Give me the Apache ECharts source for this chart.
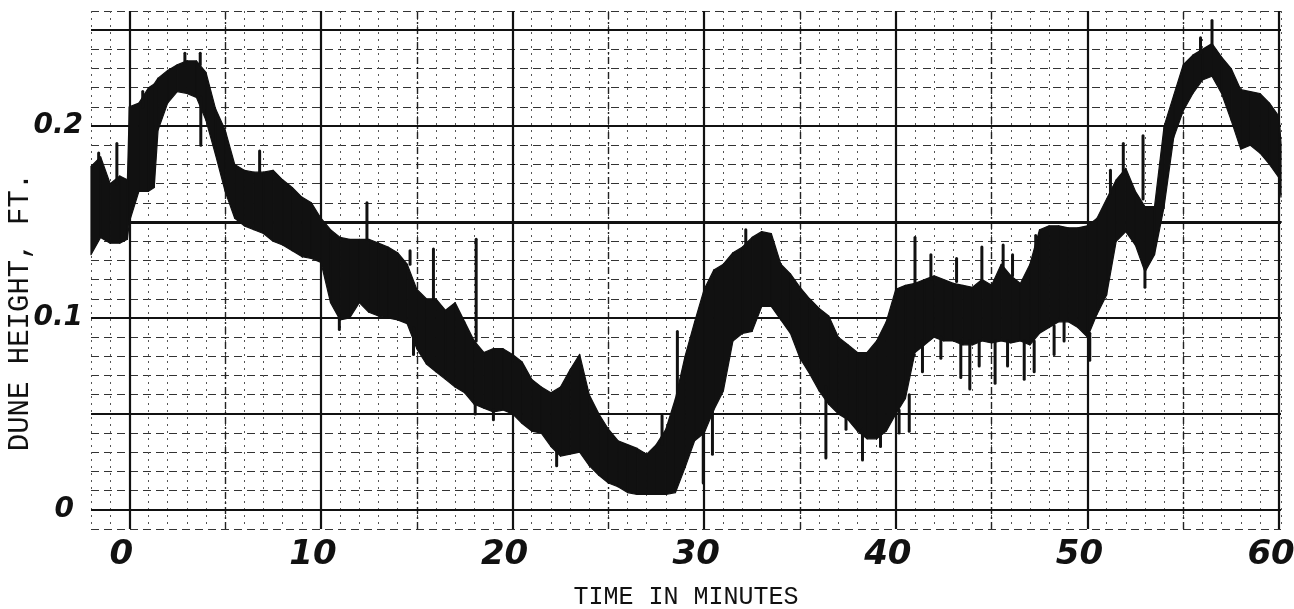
<!DOCTYPE html>
<html>
<head>
<meta charset="utf-8">
<script src="https://cdn.jsdelivr.net/npm/echarts@6/dist/echarts.min.js"></script>
<style>
html,body{margin:0;padding:0;background:#fff;}
#chart{width:1294px;height:609px;}
</style>
</head>
<body>
<div id="chart"></div>
<script>
// Time in minutes (base envelope samples)
const times = [-2,-1.5,-1,-0.5,-0.1,0,0.5,1,1.3,1.5,2,2.5,3,3.5,4,4.5,5,5.5,6,6.5,7,7.5,8,8.5,9,9.5,10,10.5,11,11.5,12,12.5,13,13.5,14,14.5,15,15.5,16,16.5,17,17.5,18,18.5,19,19.5,20,20.5,21,21.5,22,22.5,23,23.5,24,24.5,25,25.5,26,26.5,27,27.5,28,28.5,29,29.5,30,30.5,31,31.5,32,32.5,33,33.5,34,34.5,35,35.5,36,36.5,37,37.5,38,38.5,39,39.5,40,40.5,41,41.5,42,42.5,43,43.5,44,44.5,45,45.5,46,46.5,47,47.5,48,48.5,49,49.5,50,50.5,51,51.5,52,52.5,53,53.5,54,54.5,55,55.5,56,56.5,57,57.5,58,58.5,59,59.5,60,60.1];
// Upper edge of the recorded trace (ft)
const hiVals = [0.179,0.184,0.170,0.174,0.172,0.210,0.212,0.220,0.222,0.225,0.229,0.232,0.234,0.234,0.228,0.209,0.198,0.180,0.177,0.176,0.176,0.177,0.172,0.168,0.163,0.160,0.152,0.146,0.142,0.141,0.141,0.141,0.139,0.137,0.134,0.128,0.115,0.110,0.110,0.104,0.108,0.098,0.088,0.082,0.084,0.084,0.081,0.077,0.068,0.064,0.061,0.064,0.073,0.081,0.060,0.050,0.042,0.036,0.034,0.032,0.029,0.034,0.042,0.058,0.080,0.098,0.115,0.125,0.128,0.134,0.137,0.142,0.145,0.144,0.128,0.123,0.116,0.110,0.105,0.101,0.090,0.086,0.082,0.082,0.088,0.098,0.115,0.117,0.118,0.120,0.122,0.120,0.118,0.117,0.116,0.120,0.117,0.128,0.122,0.118,0.128,0.146,0.148,0.148,0.147,0.147,0.148,0.152,0.162,0.172,0.178,0.166,0.158,0.158,0.200,0.216,0.232,0.237,0.240,0.243,0.236,0.230,0.219,0.218,0.217,0.212,0.205,0.191];
// Lower edge of the recorded trace (ft)
const loVals = [0.133,0.142,0.139,0.139,0.141,0.150,0.166,0.166,0.168,0.198,0.212,0.218,0.217,0.215,0.203,0.185,0.166,0.152,0.148,0.146,0.144,0.140,0.138,0.135,0.132,0.131,0.129,0.108,0.099,0.100,0.108,0.103,0.101,0.100,0.099,0.097,0.084,0.076,0.072,0.068,0.064,0.061,0.055,0.053,0.051,0.052,0.050,0.045,0.041,0.040,0.033,0.028,0.029,0.030,0.023,0.018,0.014,0.012,0.009,0.008,0.008,0.008,0.008,0.009,0.022,0.036,0.040,0.052,0.062,0.088,0.092,0.093,0.106,0.106,0.099,0.092,0.079,0.071,0.062,0.055,0.050,0.047,0.041,0.037,0.037,0.041,0.050,0.058,0.082,0.086,0.090,0.088,0.088,0.086,0.086,0.088,0.087,0.088,0.087,0.088,0.086,0.092,0.095,0.098,0.098,0.095,0.090,0.102,0.112,0.140,0.145,0.138,0.124,0.133,0.158,0.194,0.208,0.217,0.224,0.226,0.217,0.203,0.188,0.190,0.186,0.180,0.173,0.163];

// Narrow spikes of the pen: time, start value, tip value (ft)
const spikeTimes = [-1.6,-0.65,0.7,2.9,3.7,3.73,6.8,10.96,12.4,14.65,14.83,15.87,18.1,18.05,19.0,22.3,27.8,28.6,29.95,30.43,32.17,36.35,37.4,38.26,39.2,40.17,40.7,41.0,41.39,41.83,42.35,43.17,43.39,43.86,44.35,44.49,45.18,45.6,45.83,46.09,46.7,47.22,47.3,48.26,48.78,50.12,51.2,51.87,52.9,53.0,55.9,56.5];
const spikeFrom = [0.180,0.170,0.210,0.232,0.232,0.215,0.176,0.102,0.141,0.128,0.095,0.110,0.088,0.056,0.052,0.032,0.034,0.055,0.045,0.055,0.137,0.064,0.050,0.042,0.039,0.052,0.060,0.118,0.088,0.120,0.090,0.119,0.088,0.088,0.088,0.119,0.088,0.124,0.088,0.122,0.088,0.088,0.135,0.096,0.098,0.092,0.165,0.175,0.162,0.126,0.238,0.242];
const spikeTip = [0.186,0.191,0.218,0.238,0.238,0.190,0.187,0.094,0.160,0.135,0.081,0.136,0.141,0.050,0.047,0.023,0.049,0.093,0.014,0.029,0.146,0.027,0.042,0.026,0.033,0.040,0.041,0.142,0.072,0.133,0.079,0.131,0.069,0.063,0.075,0.137,0.066,0.138,0.075,0.133,0.068,0.072,0.143,0.081,0.088,0.078,0.177,0.191,0.195,0.116,0.246,0.255];

const xTickLabels = [0,10,20,30,40,50,60];
const yTickLabels = [0,0.1,0.2];
const yTickText = ['0','0.1','0.2'];
const majorX = [0,10,20,30,40,50,60];
const halfX = [5,15,25,35,45,55];
const majorY = [0,0.05,0.1,0.2,0.25];
const heavyY = [0.15];

const envData = times.map((t,i)=>[t, loVals[i], hiVals[i]]);
const spikeData = spikeTimes.map((t,i)=>[t, spikeFrom[i], spikeTip[i]]);

const chart = echarts.init(document.getElementById('chart'), null, {renderer:'canvas'});
const ink = '#111';
const markLines = [].concat(
  halfX.map(v=>({xAxis:v, lineStyle:{color:'#222', width:1.4, type:[7,3,2,3]}})),
  majorX.map(v=>({xAxis:v, lineStyle:{color:ink, width:2.2, type:'solid'}})),
  majorY.map(v=>({yAxis:v, lineStyle:{color:ink, width:2.2, type:'solid'}})),
  heavyY.map(v=>({yAxis:v, lineStyle:{color:ink, width:3.2, type:'solid'}}))
);

function renderEnv(params, api){
  const i = params.dataIndex;
  if (i >= envData.length - 1) return null;
  const a = envData[i], b = envData[i+1];
  const pts = [
    api.coord([a[0], a[1]]),
    api.coord([a[0], a[2]]),
    api.coord([b[0], b[2]]),
    api.coord([b[0], b[1]])
  ];
  return {
    type:'polygon',
    shape:{points:pts},
    style:{fill:ink, stroke:ink, lineWidth:1.2, lineJoin:'round'}
  };
}

function renderSpike(params, api){
  const p0 = api.coord([api.value(0), api.value(1)]);
  const p1 = api.coord([api.value(0), api.value(2)]);
  return {
    type:'line',
    shape:{x1:p0[0], y1:p0[1], x2:p1[0], y2:p1[1]},
    style:{stroke:ink, lineWidth:3, lineCap:'round'}
  };
}

chart.setOption({
  animation:false,
  backgroundColor:'#fff',
  grid:{left:91, right:13, top:11, bottom:80, containLabel:false, outerBoundsMode:'none'},
  xAxis:{
    type:'value', min:-2, max:60.1, interval:1,
    axisLine:{show:false}, axisTick:{show:false},
    splitLine:{show:true, lineStyle:{color:'#555', width:1, type:[2,5]}},
    axisLabel:{
      show:true, margin:9,
      formatter:(v)=>{ const k = xTickLabels.find(x=>Math.abs(x-v)<1e-6); return k===undefined?'':'{a|'+k+'}{s|}'; },
      rich:{
        a:{fontFamily:'DejaVu Sans', fontStyle:'italic', fontWeight:'bold', fontSize:34, color:ink},
        s:{width:16}
      }
    },
    name:'TIME IN MINUTES', nameLocation:'middle', nameGap:56, nameMoveOverlap:false,
    nameTextStyle:{fontFamily:'Liberation Mono', fontSize:25, color:ink}
  },
  yAxis:{
    type:'value', min:-0.01, max:0.26, interval:0.01,
    axisLine:{show:false}, axisTick:{show:false},
    splitLine:{show:true, lineStyle:{color:'#333', width:1, type:[8,5]}},
    axisLabel:{
      show:true, margin:8,
      formatter:(v)=>{ const i = yTickLabels.findIndex(y=>Math.abs(y-v)<1e-6); if (i<0) return ''; return yTickText[i]==='0' ? '{a|0}{s|}' : '{a|'+yTickText[i]+'}'; },
      rich:{
        a:{fontFamily:'DejaVu Sans', fontStyle:'italic', fontWeight:'bold', fontSize:28, color:ink},
        s:{width:9}
      }
    },
    name:'DUNE HEIGHT, FT.', nameLocation:'middle', nameGap:56, nameMoveOverlap:false,
    nameTextStyle:{fontFamily:'Liberation Mono', fontSize:29, color:ink, padding:[0,84,0,0]}
  },
  series:[
    {
      type:'line', name:'grid', data:[], showSymbol:false, z:1,
      markLine:{silent:true, symbol:'none', z:1, animation:false, label:{show:false}, data:markLines}
    },
    {
      type:'custom', name:'trace', data:envData, z:3,
      encode:{x:0, y:[1,2]},
      renderItem:renderEnv
    },
    {
      type:'custom', name:'spikes', data:spikeData, z:4,
      encode:{x:0, y:[1,2]},
      renderItem:renderSpike
    }
  ]
});
</script>
</body>
</html>
